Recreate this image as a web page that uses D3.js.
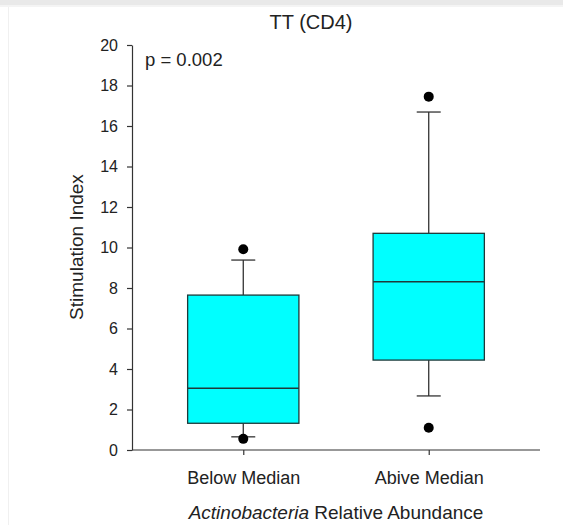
<!DOCTYPE html>
<html>
<head>
<meta charset="utf-8">
<script src="https://cdn.jsdelivr.net/npm/d3@7"></script>
<style>
  body { margin: 0; background: #fff; }
  svg { display: block; font-family: "Liberation Sans", Arial, sans-serif; }
  .axis path, .axis line { stroke: #333; stroke-width: 1.2; }
  .axis text { fill: #222; }
</style>
</head>
<body>
<div id="chart"></div>
<script>
// Data
const categories = ["Below Median", "Abive Median"];
const q1 = [1.32, 4.44];
const medians = [3.05, 8.31];
const q3 = [7.65, 10.70];
const whiskerLow = [0.65, 2.67];
const whiskerHigh = [9.38, 16.69];
const outliers = [[9.91, 0.55], [17.45, 1.10]];
const yTicks = [0, 2, 4, 6, 8, 10, 12, 14, 16, 18, 20];

const w = 563, h = 525;
const x_left = 132, x_right = 540;
const y_top = 45, y_bottom = 450;

const svg = d3.select("#chart")
    .append("svg")
    .attr("width", w)
    .attr("height", h);

// faint page edge from the screenshot
svg.append("rect").attr("x", 0).attr("y", 0).attr("width", w).attr("height", 5).attr("fill", "#e9e9e9");
svg.append("rect").attr("x", 0).attr("y", 5).attr("width", w).attr("height", 2).attr("fill", "#f4f4f4");
svg.append("line").attr("x1", 8.5).attr("x2", 8.5).attr("y1", 7).attr("y2", h)
    .attr("stroke", "#f0f0f0");

// Scales
const xScale = d3.scalePoint()
    .domain(categories)
    .range([x_left, x_right])
    .padding(0.6);

const yScale = d3.scaleLinear()
    .domain([0, 20])
    .range([y_bottom, y_top]);

const boxW = xScale.step() * 0.6;
const capW = 24;

// Axes
svg.append("g")
    .attr("class", "axis")
    .attr("transform", "translate(" + x_left + ",0)")
    .call(d3.axisLeft(yScale).tickValues(yTicks).tickSize(5).tickPadding(9).tickSizeOuter(0))
    .call(g => g.selectAll("text").attr("font-size", 16));

const xAxis = svg.append("g")
    .attr("class", "axis")
    .attr("transform", "translate(0," + y_bottom + ")")
    .call(d3.axisBottom(xScale).tickSize(5).tickPadding(16).tickSizeOuter(0))
    .call(g => g.selectAll("text").attr("font-size", 18));
xAxis.select(".domain").attr("d", "M" + x_left + ",0H" + x_right);

// Boxes
const data = categories.map((c, i) => ({
    cat: c, q1: q1[i], med: medians[i], q3: q3[i],
    lo: whiskerLow[i], hi: whiskerHigh[i], out: outliers[i]
}));

const g = svg.append("g");

// whiskers
g.selectAll(".whisk")
    .data(data.flatMap(d => [[d, d.q3, d.hi], [d, d.q1, d.lo]]))
    .join("line")
    .attr("x1", d => xScale(d[0].cat))
    .attr("x2", d => xScale(d[0].cat))
    .attr("y1", d => yScale(d[1]))
    .attr("y2", d => yScale(d[2]))
    .attr("stroke", "#333")
    .attr("stroke-width", 1.3);

// caps
g.selectAll(".cap")
    .data(data.flatMap(d => [[d, d.hi], [d, d.lo]]))
    .join("line")
    .attr("x1", d => xScale(d[0].cat) - capW / 2)
    .attr("x2", d => xScale(d[0].cat) + capW / 2)
    .attr("y1", d => yScale(d[1]))
    .attr("y2", d => yScale(d[1]))
    .attr("stroke", "#333")
    .attr("stroke-width", 1.3);

g.selectAll(".box")
    .data(data)
    .join("rect")
    .attr("x", d => xScale(d.cat) - boxW / 2)
    .attr("width", boxW)
    .attr("y", d => yScale(d.q3))
    .attr("height", d => yScale(d.q1) - yScale(d.q3))
    .attr("fill", "#00ffff")
    .attr("stroke", "#1e3a3a")
    .attr("stroke-width", 1.3);

g.selectAll(".med")
    .data(data)
    .join("line")
    .attr("x1", d => xScale(d.cat) - boxW / 2)
    .attr("x2", d => xScale(d.cat) + boxW / 2)
    .attr("y1", d => yScale(d.med))
    .attr("y2", d => yScale(d.med))
    .attr("stroke", "#1e3a3a")
    .attr("stroke-width", 1.5);

g.selectAll(".out")
    .data(data.flatMap(d => d.out.map(v => [d.cat, v])))
    .join("circle")
    .attr("cx", d => xScale(d[0]))
    .attr("cy", d => yScale(d[1]))
    .attr("r", 5)
    .attr("fill", "#000");

// Texts
svg.append("text")
    .attr("x", 311)
    .attr("y", 29)
    .attr("text-anchor", "middle")
    .attr("font-size", 20)
    .attr("fill", "#222")
    .text("TT (CD4)");

svg.append("text")
    .attr("x", 145)
    .attr("y", 66)
    .attr("font-size", 18.5)
    .attr("fill", "#222")
    .text("p = 0.002");

svg.append("text")
    .attr("transform", "translate(83,247) rotate(-90)")
    .attr("text-anchor", "middle")
    .attr("font-size", 19)
    .attr("fill", "#222")
    .text("Stimulation Index");

const xl = svg.append("text")
    .attr("x", 336)
    .attr("y", 519)
    .attr("text-anchor", "middle")
    .attr("font-size", 19)
    .attr("fill", "#222");
xl.append("tspan").attr("font-style", "italic").text("Actinobacteria");
xl.append("tspan").text(" Relative Abundance");
</script>
</body>
</html>
